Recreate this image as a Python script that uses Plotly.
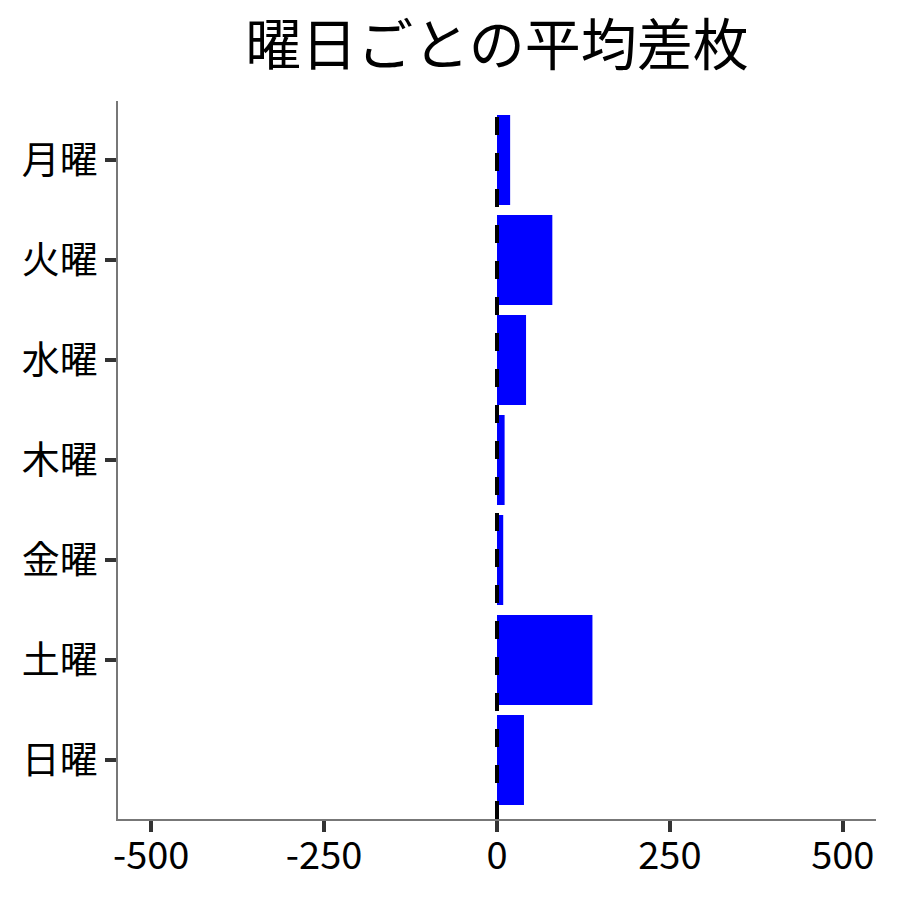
import plotly.graph_objects as go

# 曜日ごとの平均差枚
days = ["月曜", "火曜", "水曜", "木曜", "金曜", "土曜", "日曜"]
avg_diff = [19, 80, 42, 11, 9, 138, 39]

x_ticks = [-500, -250, 0, 250, 500]

FONT = "Noto Sans CJK JP"

fig = go.Figure()
fig.add_trace(go.Bar(
    x=avg_diff,
    y=days,
    orientation="h",
    marker=dict(color="#0000ff", line=dict(width=0)),
    width=0.9,
    showlegend=False,
))

# zero line, dashed
fig.add_shape(
    type="line", xref="x", yref="paper",
    x0=0, x1=0, y0=0, y1=1,
    line=dict(color="black", width=4, dash="18px,18px"),
    layer="above",
)

# page body adds 8px, margins are trimmed for it
fig.update_layout(
    width=900, height=900,
    margin=dict(l=110, r=32, t=93, b=89),
    paper_bgcolor="white",
    plot_bgcolor="white",
    font=dict(family=FONT, size=38, color="black"),
    title=dict(
        text="曜日ごとの平均差枚",
        x=0.5, xref="paper", xanchor="center",
        y=0.958, yanchor="middle",
        font=dict(family=FONT, size=56, color="black"),
    ),
)

fig.update_xaxes(
    range=[-548, 548],
    tickvals=x_ticks,
    ticktext=[str(v) for v in x_ticks],
    showgrid=False, zeroline=False,
    showline=True, linecolor="#777777", linewidth=1.5,
    ticks="outside", ticklen=11, tickwidth=4, tickcolor="#333333",
    ticklabelstandoff=-8,
    tickfont=dict(family=FONT, size=38, color="black"),
)
fig.update_yaxes(
    categoryorder="array", categoryarray=days,
    range=[6.59, -0.59],
    showgrid=False, zeroline=False,
    showline=True, linecolor="#777777", linewidth=1.5,
    ticks="outside", ticklen=11, tickwidth=4, tickcolor="#333333",
    tickfont=dict(family=FONT, size=38, color="black"),
)

fig.write_html("out.html")
